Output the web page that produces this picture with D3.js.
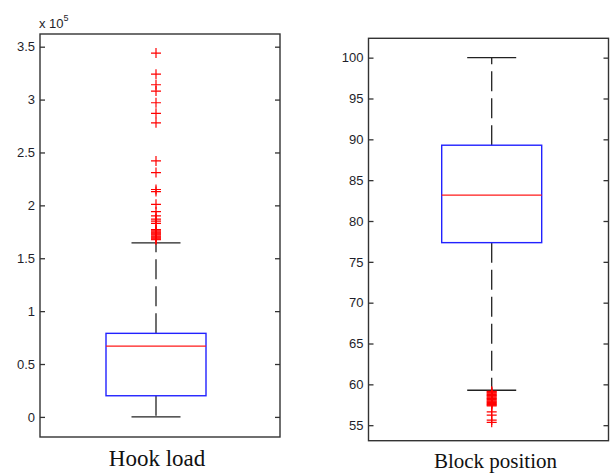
<!DOCTYPE html>
<html>
<head>
<meta charset="utf-8">
<script src="https://cdn.jsdelivr.net/npm/d3@7/dist/d3.min.js"></script>
<style>
  html, body { margin: 0; padding: 0; background: #fff; }
  svg { display: block; }
</style>
</head>
<body>
<svg id="chart" width="610" height="473"></svg>
<script>
// ---------------- DATA ----------------
const categories = ["Hook load", "Block position"];

// Hook load (values in units of 1e5)
const hookStats = { lowerWhisker: 0, q1: 0.20, median: 0.67, q3: 0.79, upperWhisker: 1.645 };
const hookOutliers = [3.44, 3.24, 3.14, 3.08, 2.97, 2.87, 2.78, 2.42, 2.31, 2.15, 2.13,
  2.01, 1.94, 1.90, 1.87, 1.85, 1.83,
  1.77, 1.76, 1.75, 1.74, 1.73, 1.72, 1.71, 1.70, 1.69, 1.68, 1.675];
const hookTicks = [0, 0.5, 1, 1.5, 2, 2.5, 3, 3.5];

// Block position
const blockStats = { lowerWhisker: 59.28, q1: 77.35, median: 83.16, q3: 89.28, upperWhisker: 100 };
const blockOutliers = [59.15, 59.05, 58.95, 58.85, 58.75, 58.65, 58.55, 58.45, 58.35, 58.25,
  58.15, 58.05, 57.95, 57.85, 57.75, 57.65, 57.55, 57.45, 57.37,
  56.64, 56.24, 55.63, 55.35];
const blockTicks = [55, 60, 65, 70, 75, 80, 85, 90, 95, 100];

// ---------------- LAYOUT ----------------
const svg = d3.select("#chart");
const panels = [
  { name: categories[0], stats: hookStats, outliers: hookOutliers, ticks: hookTicks,
    domain: [-0.19, 3.62], x0: 40, x1: 280, yTop: 34, yBot: 437, center: 156,
    labelSize: 23, labelY: 466, exponent: true },
  { name: categories[1], stats: blockStats, outliers: blockOutliers, ticks: blockTicks,
    domain: [53.1, 102.37], x0: 368.5, x1: 608.5, yTop: 38.3, yBot: 440.7, center: 491.7,
    labelSize: 21, labelY: 468, exponent: false }
];

const axisColor = "#333";
const boxHalf = 50, capHalf = 24.5, plusHalf = 5;

panels.forEach(p => {
  const y = d3.scaleLinear().domain(p.domain).range([p.yBot, p.yTop]);
  const g = svg.append("g");

  // left axis (inward ticks)
  const axL = g.append("g").attr("transform", `translate(${p.x0},0)`)
    .call(d3.axisLeft(y).tickValues(p.ticks).tickSizeInner(-5).tickSizeOuter(0).tickPadding(7)
      .tickFormat(d3.format("")));
  // right axis (inward ticks, no labels)
  const axR = g.append("g").attr("transform", `translate(${p.x1},0)`)
    .call(d3.axisRight(y).tickValues(p.ticks).tickSizeInner(-5).tickSizeOuter(0).tickFormat(""));
  [axL, axR].forEach(a => {
    a.select(".domain").remove();
    a.selectAll(".tick line").attr("stroke", axisColor).attr("stroke-width", 1.3);
  });
  axL.selectAll(".tick text")
    .attr("fill", "#1e1e2a")
    .style("font-family", "'Liberation Sans', Arial, sans-serif")
    .style("font-size", "13px")
    .attr("dx", "2px");

  // frame
  g.append("rect")
    .attr("x", p.x0).attr("y", p.yTop)
    .attr("width", p.x1 - p.x0).attr("height", p.yBot - p.yTop)
    .attr("fill", "none").attr("stroke", axisColor).attr("stroke-width", 1.4);

  const s = p.stats, cx = p.center;

  // whiskers (dashed)
  g.append("line").attr("x1", cx).attr("x2", cx)
    .attr("y1", y(s.q3)).attr("y2", y(s.upperWhisker))
    .attr("stroke", "#222").attr("stroke-width", 1.3).attr("stroke-dasharray", "20,7");
  g.append("line").attr("x1", cx).attr("x2", cx)
    .attr("y1", y(s.q1)).attr("y2", y(s.lowerWhisker))
    .attr("stroke", "#222").attr("stroke-width", 1.3).attr("stroke-dasharray", "20,7");
  // caps
  [s.upperWhisker, s.lowerWhisker].forEach(v => {
    g.append("line").attr("x1", cx - capHalf).attr("x2", cx + capHalf)
      .attr("y1", y(v)).attr("y2", y(v))
      .attr("stroke", "#222").attr("stroke-width", 1.3);
  });

  // box
  g.append("rect")
    .attr("x", cx - boxHalf).attr("y", y(s.q3))
    .attr("width", boxHalf * 2).attr("height", y(s.q1) - y(s.q3))
    .attr("fill", "none").attr("stroke", "#2222ff").attr("stroke-width", 1.4);
  // median
  g.append("line").attr("x1", cx - boxHalf).attr("x2", cx + boxHalf)
    .attr("y1", y(s.median)).attr("y2", y(s.median))
    .attr("stroke", "#ff1a1a").attr("stroke-width", 1.3);

  // outliers (plus markers)
  const og = g.append("g");
  p.outliers.forEach(v => {
    og.append("path")
      .attr("d", `M${cx - plusHalf},${y(v)}H${cx + plusHalf}M${cx},${y(v) - plusHalf}V${y(v) + plusHalf}`)
      .attr("stroke", "#ff0000").attr("stroke-width", 1.2).attr("fill", "none");
  });

  // x label
  g.append("text")
    .attr("x", (p.x0 + p.x1) / 2 + (p.exponent ? -3 : 7)).attr("y", p.labelY)
    .attr("text-anchor", "middle")
    .style("font-family", "'Liberation Serif', 'Times New Roman', serif")
    .style("font-size", p.labelSize + "px")
    .attr("fill", "#111")
    .text(p.name);

  if (p.exponent) {
    const t = g.append("text").attr("x", p.x0 - 1).attr("y", 28)
      .style("font-family", "'Liberation Sans', Arial, sans-serif")
      .style("font-size", "13px").attr("fill", "#1e1e2a");
    t.append("tspan").text("x 10");
    t.append("tspan").attr("dy", -7).style("font-size", "9px").text("5");
  }
});
</script>
</body>
</html>
